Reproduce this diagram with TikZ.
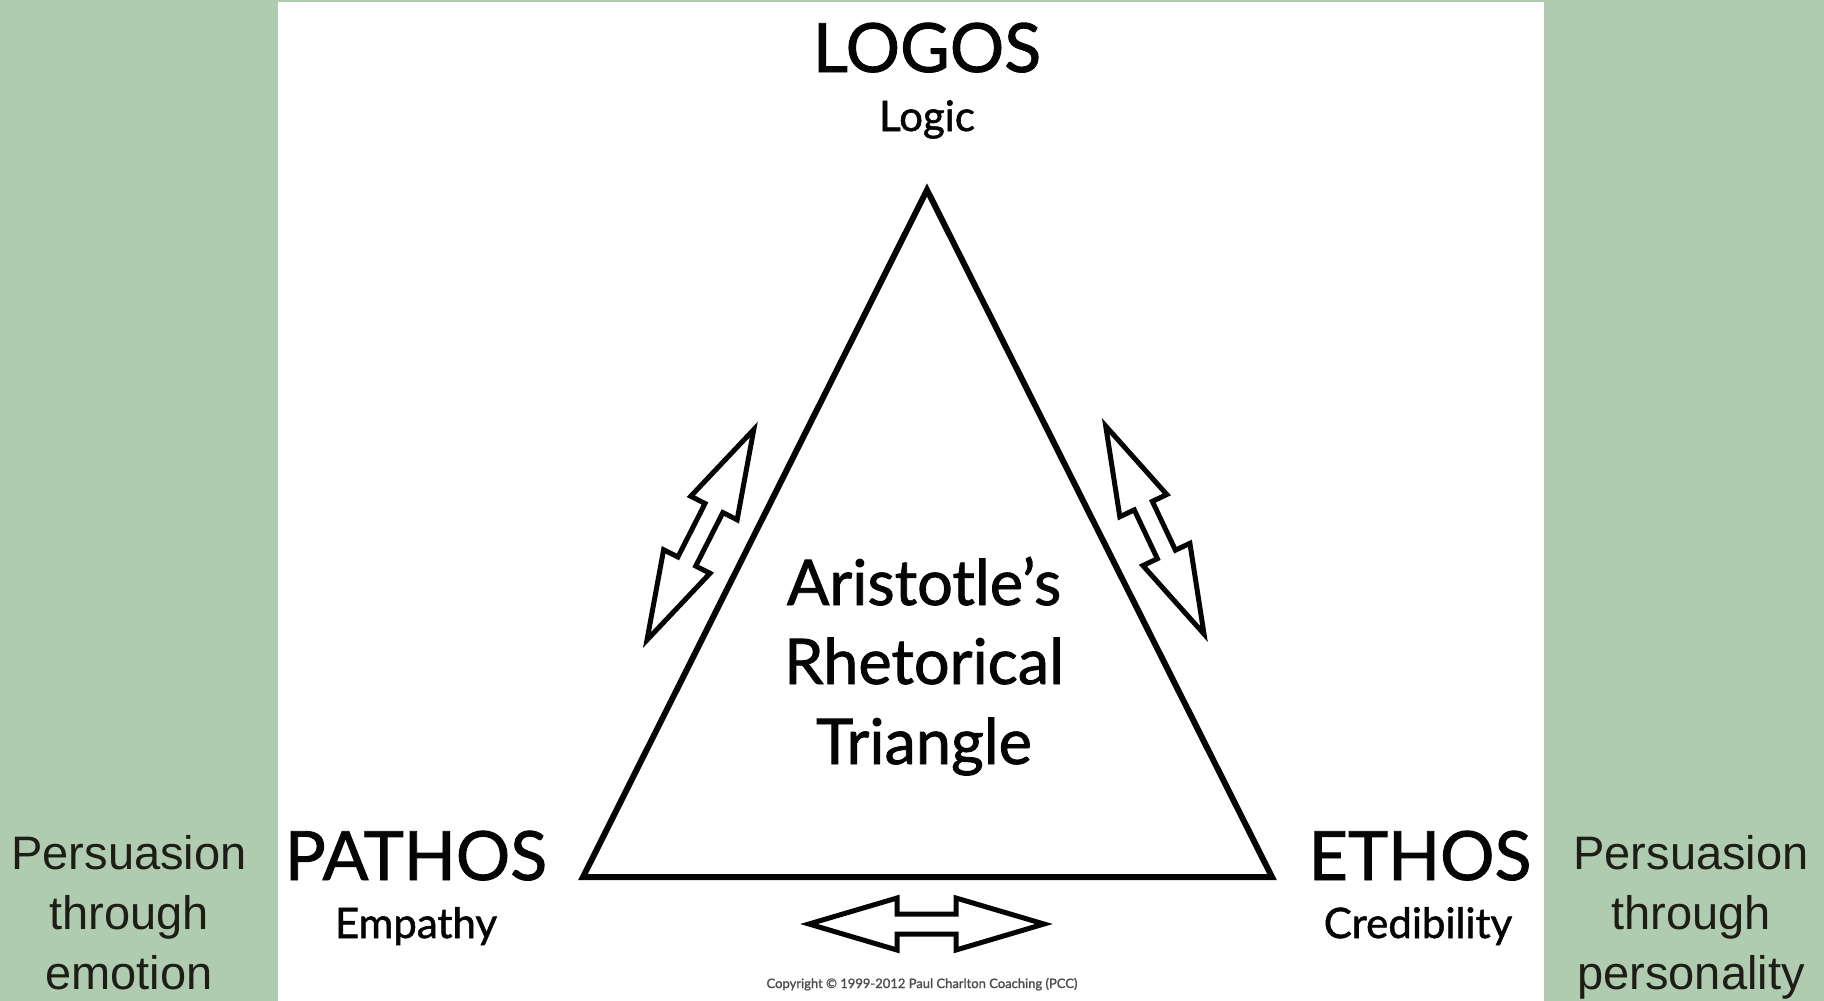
\documentclass[tikz,border=0pt]{standalone}
\usepackage{fontspec}
\newfontfamily\gillfont[FakeBold=1.3]{Lato}
\newfontfamily\arialfont{Liberation Sans}
\definecolor{panelgreen}{HTML}{AFCCB0}
\definecolor{sidetext}{HTML}{1E1E16}
\definecolor{inkblack}{HTML}{050505}
\tikzset{
  title/.style={font=\gillfont\fontsize{68}{76}\selectfont, text=inkblack, inner sep=0pt, anchor=base},
  subtitle/.style={font=\gillfont\fontsize{42}{48}\selectfont, text=inkblack, inner sep=0pt, anchor=base},
  centertext/.style={font=\gillfont\fontsize{63}{70}\selectfont, text=inkblack, inner sep=0pt, anchor=base},
  sidelabel/.style={font=\arialfont\fontsize{47}{60}\selectfont, text=sidetext, inner sep=0pt, anchor=base},
  triline/.style={draw=inkblack, line width=6pt, line join=miter},
  arrowline/.style={draw=inkblack, line width=5pt, line join=miter, fill=white},
  dblarrow/.pic={
    \path[arrowline] (0,0) -- (88,26) -- (88,10) -- (#1-88,10) -- (#1-88,26) -- (#1,0)
      -- (#1-88,-26) -- (#1-88,-10) -- (88,-10) -- (88,-26) -- cycle;
  }
}
\begin{document}
\begin{tikzpicture}[x=1pt,y=-1pt]
\useasboundingbox (0,0) rectangle (1824,1001);
\fill[panelgreen] (0,0) rectangle (1824,1001);
\fill[white] (278,2) rectangle (1544,1001);

% triangle
\coordinate (apex) at (927,190);
\coordinate (bl) at (583,877);
\coordinate (br) at (1272,877);
\draw[triline] (apex) -- (bl) -- (br) -- cycle;

% double arrows
\coordinate (la) at (647,640);
\coordinate (ra) at (1204,634);
\coordinate (ba) at (809,924);
\pic[rotate=63.1] (leftarrow) at (la) {dblarrow=236};
\pic[rotate=115.3] (rightarrow) at (ra) {dblarrow=230};
\pic (bottomarrow) at (ba) {dblarrow=235};

% corner labels
\node[title] (logos) at (927,72) {LOGOS};
\node[subtitle] (logic) at (927,131) {Logic};
\node[title] (pathos) at (416,880) {PATHOS};
\node[subtitle] (empathy) at (416,938) {Empathy};
\node[title] (ethos) at (1420,880) {ETHOS};
\node[subtitle] (cred) at (1418,938) {Credibility};

% centre title
\node[centertext] (aristotle) at (924,605) {Aristotle’s};
\node[centertext] (rhetorical) at (924,684) {Rhetorical};
\node[centertext] (trianglelbl) at (924,764) {Triangle};

% copyright
\node[font=\gillfont\fontsize{13}{15}\selectfont, text=black!70, inner sep=0pt, anchor=base] (copy) at (922,988)
  {Copyright \textcopyright\ 1999-2012 Paul Charlton Coaching (PCC)};

% side texts
\node[sidelabel] (lp1) at (129,869) {Persuasion};
\node[sidelabel] (lp2) at (129,929) {through};
\node[sidelabel] (lp3) at (129,989) {emotion};
\node[sidelabel] (rp1) at (1691,869) {Persuasion};
\node[sidelabel] (rp2) at (1691,929) {through};
\node[sidelabel] (rp3) at (1691,989) {personality};
\end{tikzpicture}
\end{document}
